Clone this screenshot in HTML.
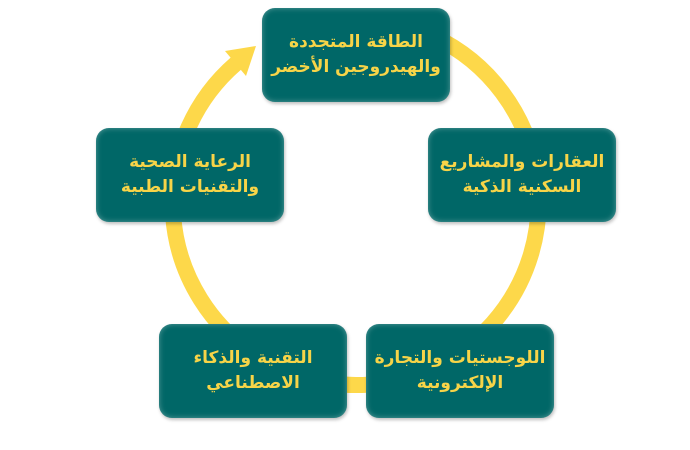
<!DOCTYPE html>
<html><head><meta charset="utf-8"><style>
body{margin:0;width:690px;height:450px;background:#fff;position:relative;overflow:hidden}
.b{position:absolute;width:188px;height:94px;background:#006767;border-radius:13px;box-shadow:inset 0 0 6px rgba(255,255,255,.35),1px 2px 3px rgba(0,0,0,.25);display:flex;align-items:center;justify-content:center;text-align:center;color:#f7d448;font:bold 17px/25px "DejaVu Sans","Liberation Sans",sans-serif;direction:rtl}
svg{position:absolute;left:0;top:0}
</style></head><body>
<svg width="690" height="450">
<path d="M356,19 A183,183 0 1 1 236,63.5" fill="none" stroke="#fdd84a" stroke-width="16"/>
<polygon points="256,46 225,51 246,76" fill="#fdd84a"/>
</svg>
<div class="b" style="left:262px;top:8px">الطاقة المتجددة<br>والهيدروجين الأخضر</div>
<div class="b" style="left:428px;top:128px">العقارات والمشاريع<br>السكنية الذكية</div>
<div class="b" style="left:366px;top:324px">اللوجستيات والتجارة<br>الإلكترونية</div>
<div class="b" style="left:159px;top:324px">التقنية والذكاء<br>الاصطناعي</div>
<div class="b" style="left:96px;top:128px">الرعاية الصحية<br>والتقنيات الطبية</div>
</body></html>
